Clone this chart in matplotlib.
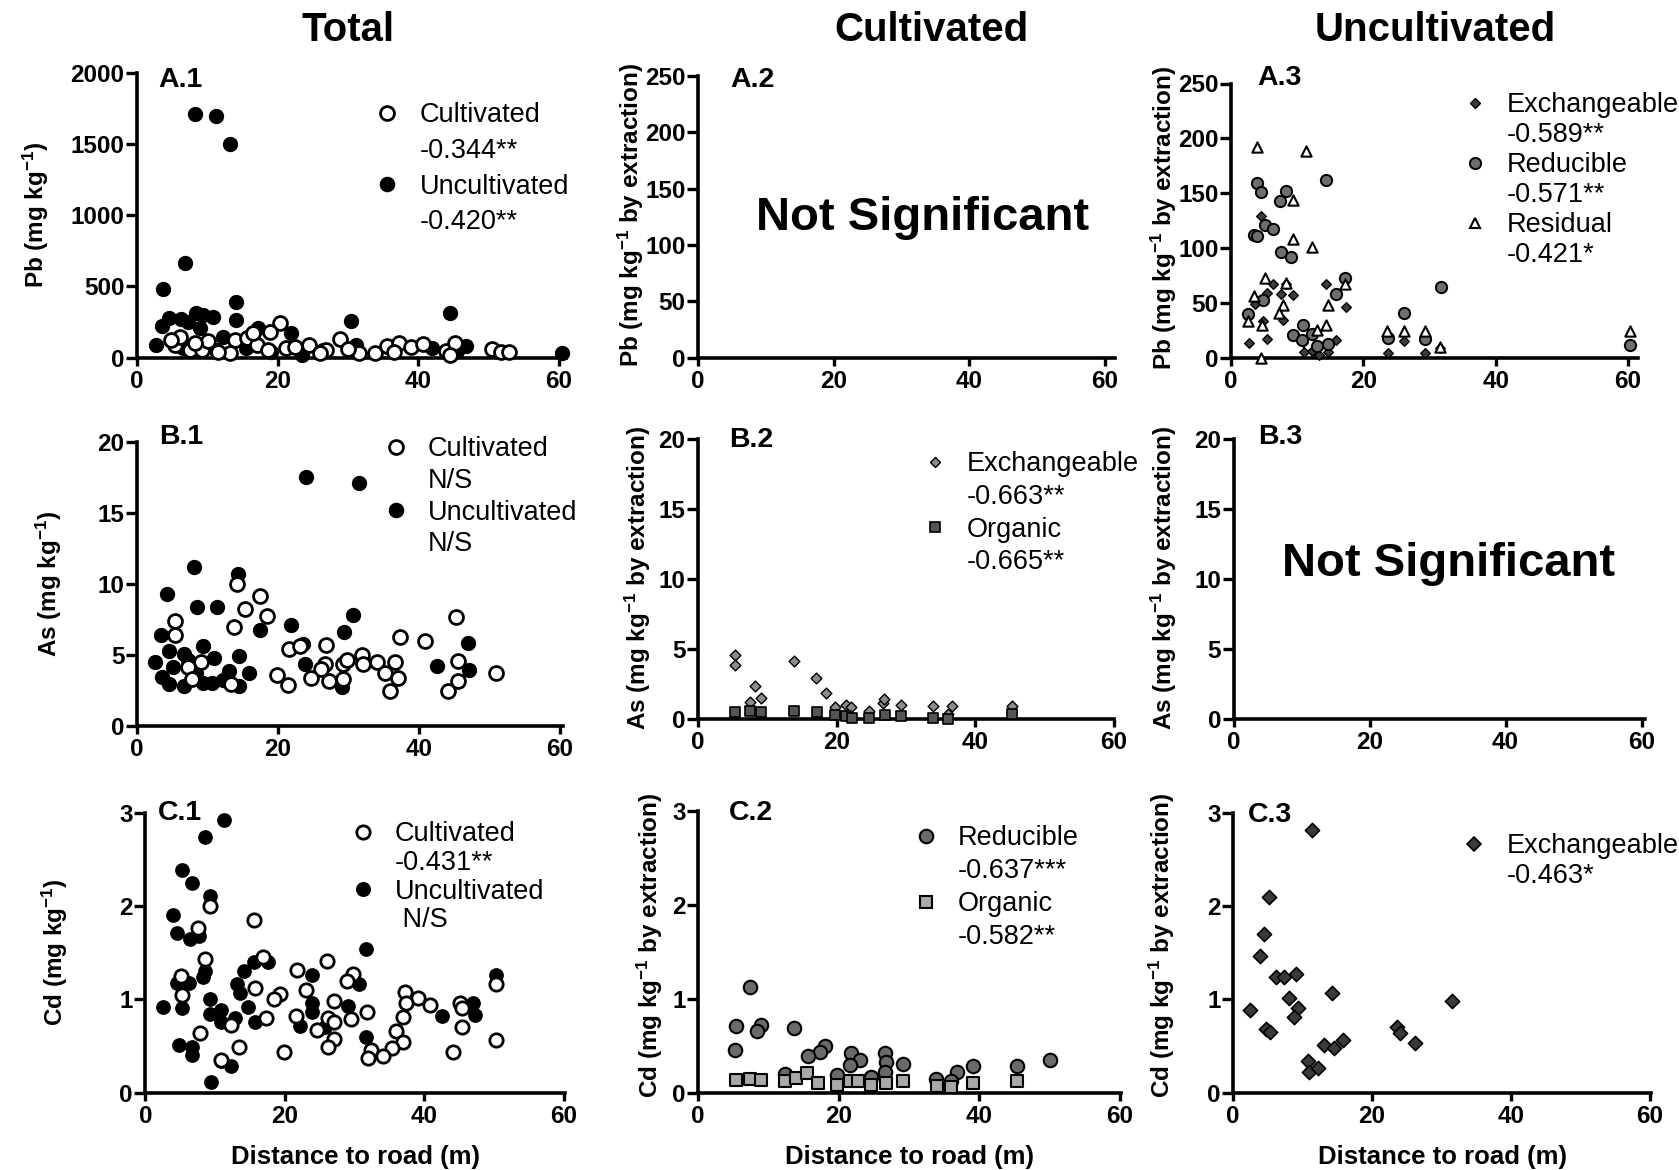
import matplotlib

matplotlib.use("Agg")
import matplotlib.pyplot as plt
from matplotlib.lines import Line2D

W, H = 1679, 1170
plt.rcParams["font.family"] = ["Liberation Sans", "DejaVu Sans"]
plt.rcParams["mathtext.default"] = "regular"

# --- data (distance to road in m) -------------------------------------------
# A.1  total Pb (mg/kg)
a1_unc_x = [8.2, 11.3, 13.2, 6.8, 3.7, 14.1, 14.1, 30.4, 44.5, 2.7, 3.5, 4.5, 6.3, 8.4, 9.4, 10.8,
            7.3, 8.9, 12.2, 17.2, 21.9, 31.2, 42.0, 46.8, 23.4, 11.3, 6.6, 60.4, 45.5, 19.0, 26.5, 15.5]
a1_unc_y = [1713, 1697, 1502, 662, 480, 393, 264, 257, 311, 88, 222, 276, 269, 315, 299, 287,
            252, 206, 147, 206, 171, 88, 65, 81, 18, 53, 65, 35, 45, 40, 55, 70]
a1_cul_x = [20.3, 18.9, 5.4, 7.5, 9.2, 10.1, 13.9, 15.6, 13.2, 17.1, 21.2, 22.4, 24.5, 26.9, 28.8,
            31.6, 33.8, 35.6, 37.3, 39.0, 40.6, 43.9, 45.2, 50.5, 51.7, 52.9, 6.1, 4.9, 8.2, 18.6,
            26.0, 11.5, 16.5, 30.0, 44.5, 36.5]
a1_cul_y = [241, 182, 88, 53, 53, 117, 124, 135, 30, 88, 65, 72, 88, 53, 128,
            30, 30, 81, 100, 72, 96, 48, 105, 58, 41, 41, 147, 124, 100, 53,
            34, 40, 170, 60, 20, 40]

# A.3  Pb fractions, uncultivated
a3_exc_x = [4.6, 4.0, 6.4, 8.3, 5.4, 7.5, 9.4, 3.6, 14.4, 17.4, 7.8, 4.8, 2.7, 5.4, 10.9, 12.2,
            13.3, 14.6, 15.8, 23.7, 26.1, 29.3, 31.6, 11.0]
a3_exc_y = [128.7, 111.2, 66.8, 67.4, 59.1, 57.6, 57.0, 49.0, 66.8, 46.0, 34.0, 33.1, 13.2, 16.9,
            13.8, 6.1, 2.5, 5.5, 15.6, 4.0, 15.3, 4.0, 8.6, 5.5]
a3_red_x = [4.0, 4.6, 8.3, 7.4, 14.4, 5.2, 6.4, 3.5, 4.0, 7.6, 9.0, 17.3, 15.8, 4.9, 2.6, 10.9,
            9.3, 12.3, 14.6, 26.1, 31.7, 23.7, 29.3, 60.3, 10.8, 13.0]
a3_red_y = [159.3, 151.0, 152.0, 142.5, 161.8, 121.0, 117.3, 111.8, 110.6, 95.9, 91.3, 72.9, 57.6,
            52.1, 40.1, 30.0, 20.2, 21.4, 12.3, 40.7, 64.6, 17.8, 17.2, 11.6, 16.2, 11.0]
a3_res_x = [4.0, 11.4, 9.3, 9.3, 12.3, 5.2, 8.3, 3.5, 7.8, 7.3, 2.5, 14.6, 14.3, 17.3, 4.5, 23.6,
            26.1, 29.3, 31.6, 13.0, 4.7, 60.3]
a3_res_y = [192.4, 188.7, 143.4, 108.1, 100.5, 72.9, 68.3, 56.1, 48.4, 40.7, 33.1, 48.4, 30.0,
            66.8, 0.0, 24.5, 24.5, 24.5, 10.1, 25.4, 30.0, 24.5]

# B.1  total As (mg/kg)
b1_unc_x = [24.0, 31.5, 8.1, 14.3, 4.3, 8.5, 11.3, 3.4, 17.4, 21.9, 29.3, 30.6, 47.0, 42.6, 47.1,
            23.8, 23.6, 29.1, 2.5, 14.5, 15.9, 14.5, 9.3, 4.6, 6.7, 3.6, 4.6, 6.7, 8.3, 10.9,
            10.7, 13.0, 9.3, 5.1, 7.2, 12.2]
b1_unc_y = [17.55, 17.08, 11.18, 10.73, 9.29, 8.35, 8.35, 6.38, 6.78, 7.08, 6.61, 7.79, 5.84, 4.26,
            3.91, 4.35, 5.76, 2.73, 4.54, 4.96, 3.76, 2.85, 5.6, 5.25, 5.1, 3.48, 2.96, 2.82,
            3.72, 4.78, 3.0, 3.84, 3.0, 4.19, 4.66, 3.25]
b1_cul_x = [14.2, 17.4, 15.3, 18.4, 13.7, 5.4, 5.4, 45.2, 37.3, 40.8, 21.6, 23.1, 26.8, 26.7, 26.1,
            29.2, 29.8, 31.9, 32.0, 34.0, 36.6, 35.2, 37.0, 35.9, 19.8, 21.4, 24.7, 27.3, 29.2,
            44.1, 45.6, 45.6, 50.9, 9.1, 7.2, 7.8, 13.3]
b1_cul_y = [10.0, 9.13, 8.26, 7.76, 6.94, 7.36, 6.38, 7.67, 6.26, 6.02, 5.41, 5.6, 5.67, 4.38, 4.0,
            4.38, 4.66, 5.01, 4.38, 4.49, 4.54, 3.72, 3.36, 2.49, 3.6, 2.89, 3.36, 3.2, 3.32,
            2.49, 3.18, 4.59, 3.76, 4.49, 4.19, 3.32, 2.96]

# B.2  As fractions, cultivated
b2_exc_x = [5.4, 5.3, 13.9, 17.0, 18.4, 8.2, 7.5, 9.1, 19.7, 21.4, 22.0, 24.7, 26.7, 26.8, 29.3,
            33.9, 36.6, 36.0, 45.3]
b2_exc_y = [4.52, 3.86, 4.12, 2.93, 1.86, 2.29, 1.19, 1.45, 0.79, 0.95, 0.79, 0.55, 1.14, 1.43,
            0.95, 0.90, 0.90, 0.31, 0.90]
b2_org_x = [5.4, 7.5, 9.1, 13.9, 17.2, 19.7, 21.4, 22.2, 24.7, 26.9, 29.3, 33.9, 36.0, 45.3]
b2_org_y = [0.43, 0.55, 0.43, 0.55, 0.43, 0.24, 0.19, 0.07, 0.07, 0.24, 0.19, 0.07, 0.0, 0.31]

# C.1  total Cd (mg/kg)
c1_unc_x = [11.3, 8.5, 5.3, 6.7, 9.2, 3.9, 4.5, 6.4, 7.7, 31.6, 15.5, 17.6, 14.2, 8.6, 8.2, 4.5,
            6.2, 23.9, 30.6, 50.2, 13.1, 13.5, 2.5, 5.3, 9.2, 10.9, 14.7, 23.9, 23.9, 29.1, 47.0,
            47.2, 42.5, 9.2, 10.9, 12.9, 15.7, 22.2, 25.8, 31.6, 4.8, 6.7, 6.7, 10.9, 12.3, 9.4]
c1_unc_y = [2.92, 2.74, 2.39, 2.25, 2.11, 1.90, 1.71, 1.65, 1.68, 1.54, 1.40, 1.40, 1.30, 1.30,
            1.24, 1.18, 1.18, 1.26, 1.17, 1.26, 1.16, 1.07, 0.92, 0.91, 1.00, 0.89, 0.92, 0.96,
            0.86, 0.93, 0.96, 0.83, 0.82, 0.84, 0.76, 0.80, 0.76, 0.71, 0.70, 0.60, 0.51, 0.49,
            0.40, 0.34, 0.29, 0.11]
c1_cul_x = [9.2, 15.6, 7.6, 8.6, 26.1, 16.9, 21.7, 29.8, 28.9, 50.2, 5.1, 15.7, 23.0, 37.2, 19.3,
            18.5, 27.0, 5.3, 39.1, 40.8, 37.4, 45.1, 45.4, 31.8, 17.3, 21.6, 26.2, 27.1, 29.4,
            12.3, 36.9, 35.9, 24.6, 45.4, 7.8, 27.0, 50.2, 36.9, 35.4, 13.4, 26.2, 19.8, 44.1,
            32.4, 31.9, 34.0, 10.9]
c1_cul_y = [2.00, 1.85, 1.77, 1.43, 1.41, 1.45, 1.32, 1.27, 1.20, 1.16, 1.25, 1.12, 1.10, 1.08,
            1.06, 1.00, 0.98, 1.05, 1.01, 0.94, 0.96, 0.96, 0.91, 0.86, 0.80, 0.82, 0.80, 0.76,
            0.79, 0.73, 0.81, 0.66, 0.67, 0.70, 0.64, 0.58, 0.57, 0.54, 0.48, 0.49, 0.49, 0.44,
            0.44, 0.46, 0.37, 0.39, 0.35]

# C.2  Cd fractions, cultivated
c2_red_x = [7.4, 5.4, 9.0, 8.4, 13.7, 5.2, 18.0, 17.3, 15.7, 21.8, 23.1, 21.6, 26.6, 26.7, 26.6,
            29.2, 39.1, 45.4, 50.0, 36.8, 36.0, 33.8, 19.7, 24.6, 12.3]
c2_red_y = [1.12, 0.71, 0.72, 0.66, 0.69, 0.45, 0.50, 0.43, 0.39, 0.42, 0.35, 0.29, 0.42, 0.33,
            0.22, 0.31, 0.28, 0.28, 0.35, 0.22, 0.12, 0.15, 0.19, 0.17, 0.20]
c2_org_x = [5.4, 7.4, 9.0, 12.3, 13.9, 15.5, 17.0, 19.7, 21.6, 22.8, 24.6, 26.8, 29.2, 34.0, 36.0,
            39.1, 45.4]
c2_org_y = [0.13, 0.15, 0.13, 0.12, 0.16, 0.21, 0.10, 0.08, 0.12, 0.12, 0.08, 0.10, 0.12, 0.07,
            0.06, 0.10, 0.12]

# C.3  Cd fractions, uncultivated
c3_exc_x = [11.4, 5.2, 4.4, 3.9, 6.2, 7.4, 9.1, 14.3, 31.5, 8.1, 9.3, 8.8, 2.5, 4.7, 5.3, 23.6,
            24.1, 26.2, 13.1, 15.8, 14.6, 10.8, 10.9, 12.2]
c3_exc_y = [2.81, 2.10, 1.70, 1.47, 1.24, 1.24, 1.27, 1.07, 0.98, 1.01, 0.91, 0.81, 0.89, 0.68,
            0.65, 0.70, 0.64, 0.53, 0.51, 0.57, 0.48, 0.34, 0.22, 0.26]

col_titles = ["Total", "Cultivated", "Uncultivated"]
xlab = "Distance to road (m)"

fig = plt.figure(figsize=(W / 100, H / 100), dpi=100)


def fpos(x, y):
    """pixel position (from top-left) -> figure fraction"""
    return x / W, 1 - y / H


def panel(x0, x60, y0, ytop, xmax, ymax, ystep):
    width = (x60 - x0) / 60 * xmax
    ax = fig.add_axes([x0 / W, 1 - y0 / H, width / W, (y0 - ytop) / H])
    ax.set_xlim(0, xmax)
    ax.set_ylim(0, ymax)
    ax.set_xticks([0, 20, 40, 60])
    ax.set_yticks([ystep * i for i in range(int(round(ymax / ystep)) + 1)])
    for s in ("top", "right"):
        ax.spines[s].set_visible(False)
    for s in ("left", "bottom"):
        ax.spines[s].set_linewidth(2.6)
    ax.tick_params(axis="y", direction="out", length=8, width=2.4, pad=1, labelsize=17.5)
    ax.tick_params(axis="x", direction="out", length=6, width=2.4, pad=3, labelsize=17.5)
    for t in ax.get_xticklabels() + ax.get_yticklabels():
        t.set_fontweight("bold")
    ax.patch.set_alpha(0)
    return ax


def key(ax, entries, mx, tx, y1, pitch, fs=19.5):
    # mx: marker centre, tx: text start, y1: first row centre, pitch: row step (pixels)
    fpx = fs * 100 / 72
    hl = 1.0
    handles, labels = [], []
    for h, l1, l2 in entries:
        handles += [h, Line2D([], [], ls="none")]
        labels += [l1, l2]
    left = mx - hl * fpx / 2
    top = y1 - 0.39 * fpx
    ax.legend(handles, labels, loc="upper left", bbox_to_anchor=fpos(left, top),
              bbox_transform=fig.transFigure, frameon=False, borderpad=0, borderaxespad=0,
              handlelength=hl, handletextpad=(tx - left - hl * fpx) / fpx,
              labelspacing=max(pitch / fpx - 0.9, 0), fontsize=fs)


def mk(marker, size, fc, ew=1.2):
    return Line2D([], [], ls="none", marker=marker, ms=size, mfc=fc, mec="black", mew=ew)


def ylab(text, x, y):
    fig.text(*fpos(x, y), text, rotation=90, ha="center", va="center",
             fontsize=17.5, fontweight="bold")


def tag(text, x, y):
    fig.text(*fpos(x, y), text, ha="left", va="center", fontsize=20.5, fontweight="bold")


open_kw = dict(s=100, facecolor="white", edgecolor="black", linewidths=2.0, clip_on=False, zorder=3)
black_kw = dict(s=100, facecolor="black", edgecolor="black", linewidths=1.0, clip_on=False, zorder=3)

# ---------------- row A: Pb ----------------
ax = panel(137, 559, 357.6, 72.8, 61, 2000, 500)
ax.scatter(a1_unc_x, a1_unc_y, **black_kw)
ax.scatter(a1_cul_x, a1_cul_y, **open_kw)
key(ax, [(mk("o", 10, "white", 2.0), "Cultivated", "-0.344**"),
         (mk("o", 10, "black"), "Uncultivated", "-0.420**")], 387, 420, 113, 34)
ylab("Pb (mg kg$^{-1}$)", 36, 215)
tag("A.1", 158, 80)

ax = panel(698, 1105, 357.6, 76, 61.5, 250, 50)
fig.text(*fpos(923, 218), "Not Significant", ha="center", va="center", fontsize=34, fontweight="bold")
ylab("Pb (mg kg$^{-1}$ by extraction)", 631, 215)
tag("A.2", 730, 80)

ax = panel(1231, 1628, 357.6, 83.5, 61.5, 250, 50)
ax.scatter(a3_exc_x, a3_exc_y, marker="D", s=24, facecolor="#3c3c3c", edgecolor="black",
           linewidths=1.0, clip_on=False, zorder=3)
ax.scatter(a3_red_x, a3_red_y, marker="o", s=66, facecolor="#6e6e6e", edgecolor="black",
           linewidths=1.4, clip_on=False, zorder=3)
ax.scatter(a3_res_x, a3_res_y, marker="^", s=55, facecolor="white", edgecolor="black",
           linewidths=1.5, clip_on=False, zorder=4)
key(ax, [(mk("D", 4.9, "#3c3c3c", 1.0), "Exchangeable", "-0.589**"),
         (mk("o", 8.1, "#6e6e6e", 1.4), "Reducible", "-0.571**"),
         (mk("^", 7.4, "white", 1.5), "Residual", "-0.421*")], 1475, 1507, 103, 28.3)
ylab("Pb (mg kg$^{-1}$ by extraction)", 1164, 218)
tag("A.3", 1257, 78)

# ---------------- row B: As ----------------
ax = panel(137, 560, 726, 442, 60.4, 20, 5)
ax.scatter(b1_unc_x, b1_unc_y, **black_kw)
ax.scatter(b1_cul_x, b1_cul_y, **open_kw)
key(ax, [(mk("o", 10, "white", 2.0), "Cultivated", "N/S"),
         (mk("o", 10, "black"), "Uncultivated", "N/S")], 396, 428, 447, 30)
ylab("As (mg kg$^{-1}$)", 49, 584)
tag("B.1", 159, 437)

ax = panel(698, 1114, 718.5, 439, 60, 20, 5)
ax.scatter(b2_exc_x, b2_exc_y, marker="D", s=30, facecolor="#8c8c8c", edgecolor="black",
           linewidths=1.0, clip_on=False, zorder=3)
ax.scatter(b2_org_x, b2_org_y, marker="s", s=59, facecolor="#555555", edgecolor="black",
           linewidths=1.2, clip_on=False, zorder=3)
key(ax, [(mk("D", 5.5, "#8c8c8c", 1.0), "Exchangeable", "-0.663**"),
         (mk("s", 7.7, "#555555"), "Organic", "-0.665**")], 935, 967, 462, 31)
ylab("As (mg kg$^{-1}$ by extraction)", 638, 578)
tag("B.2", 729, 440)

ax = panel(1233.6, 1641.5, 718.5, 439, 60.5, 20, 5)
fig.text(*fpos(1449, 564), "Not Significant", ha="center", va="center", fontsize=34, fontweight="bold")
ylab("As (mg kg$^{-1}$ by extraction)", 1164, 578)
tag("B.3", 1258, 437)

# ---------------- row C: Cd ----------------
ax = panel(145.4, 564, 1092.7, 812.7, 60.2, 3, 1)
ax.scatter(c1_unc_x, c1_unc_y, **dict(black_kw, s=92))
ax.scatter(c1_cul_x, c1_cul_y, **dict(open_kw, s=92))
key(ax, [(mk("o", 9.6, "white", 2.0), "Cultivated", "-0.431**"),
         (mk("o", 9.6, "black"), "Uncultivated", " N/S")], 363, 395, 832, 27)
ylab("Cd (mg kg$^{-1}$)", 55, 952)
tag("C.1", 158, 813)
ax.set_xlabel(xlab, fontsize=18.5, fontweight="bold", labelpad=12)

ax = panel(698, 1120, 1092.7, 810.6, 60.2, 3, 1)
ax.scatter(c2_red_x, c2_red_y, marker="o", s=94, facecolor="#6a6a6a", edgecolor="black",
           linewidths=1.5, clip_on=False, zorder=3)
ax.scatter(c2_org_x, c2_org_y, marker="s", s=80, facecolor="#a8a8a8", edgecolor="black",
           linewidths=1.5, clip_on=False, zorder=3)
key(ax, [(mk("o", 9.7, "#6a6a6a", 1.5), "Reducible", "-0.637***"),
         (mk("s", 8.9, "#a8a8a8", 1.5), "Organic", "-0.582**")], 926, 958, 836, 31.3)
ylab("Cd (mg kg$^{-1}$ by extraction)", 650, 945)
tag("C.2", 729, 813)
ax.set_xlabel(xlab, fontsize=18.5, fontweight="bold", labelpad=12)

ax = panel(1233, 1650, 1092.7, 812.7, 60.2, 3, 1)
ax.scatter(c3_exc_x, c3_exc_y, marker="D", s=52, facecolor="#3a3a3a", edgecolor="black",
           linewidths=1.2, clip_on=False, zorder=3)
key(ax, [(mk("D", 7.2, "#3a3a3a"), "Exchangeable", "-0.463*")], 1474, 1507, 844, 28)
ylab("Cd (mg kg$^{-1}$ by extraction)", 1162, 945)
tag("C.3", 1248, 815)
ax.set_xlabel(xlab, fontsize=18.5, fontweight="bold", labelpad=12)

# column headers
for title, cx in zip(col_titles, [348, 932, 1435]):
    fig.text(*fpos(cx, 30), title, ha="center", va="center", fontsize=29, fontweight="bold")

fig.savefig("out.png", dpi=100)
